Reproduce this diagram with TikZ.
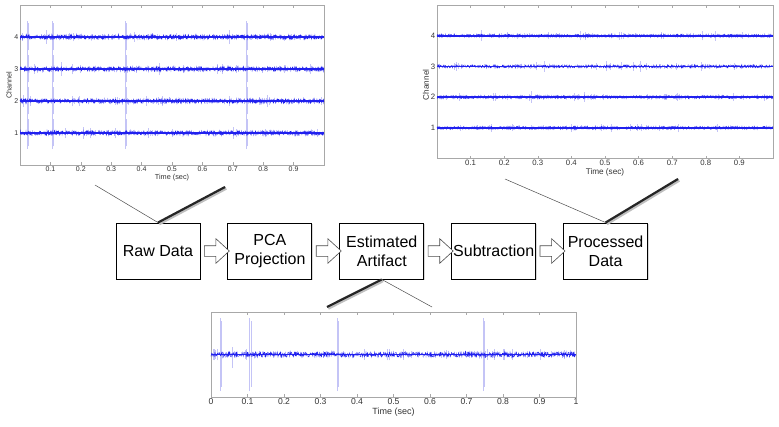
\documentclass[tikz,border=0pt]{standalone}
\usepackage{fontspec}
\setmainfont{Liberation Sans}
\usetikzlibrary{positioning,shapes.arrows,shadows}
\definecolor{sigblue}{HTML}{2020EE}
\definecolor{spikeblue}{HTML}{C4C4F6}
\definecolor{framegray}{HTML}{A8A8A8}
\definecolor{labelgray}{HTML}{333333}
\tikzset{
  stage/.style={draw=black,line width=0.9pt,fill=white,minimum width=84pt,minimum height=56pt,
                inner sep=1pt,align=center,font=\fontsize{16}{19}\selectfont,
                drop shadow={shadow xshift=1pt,shadow yshift=-1pt,opacity=0.3}},
  blockarrow/.style={single arrow,draw=black!70,fill=white,line width=0.6pt,inner sep=0pt,
                     inner ysep=5pt,minimum height=25pt,single arrow head extend=7pt,
                     single arrow tip angle=85},
  thinlink/.style={draw=black!70,line width=0.5pt},
  thicklink/.style={draw=black!85,line width=2.2pt,
                    preaction={draw=black!25,line width=3.6pt,transform canvas={xshift=1pt,yshift=-1pt}}},
  axisframe/.style={draw=framegray,line width=0.4pt},
  signal/.style={draw=sigblue,line width=0.35pt},
  baseline/.style={draw=sigblue,line width=1.6pt},
  spikeline/.style={draw=spikeblue,line width=0.4pt},
  ticklabel/.style={text=labelgray,inner sep=1.5pt},
}

\begin{document}
\begin{tikzpicture}[x=1pt,y=-1pt]
\useasboundingbox (0,0) rectangle (779,426);
\pgfmathsetseed{42}

% processing chain
\node[stage] (raw) at (158,251) {Raw Data};
\node[stage,right=27pt of raw] (pca) {PCA\\Projection};
\node[stage,right=27pt of pca] (est) {Estimated\\Artifact};
\node[stage,right=27pt of est] (sub) {Subtraction};
\node[stage,right=27pt of sub] (proc) {Processed\\Data};
\path (raw.east) -- node[blockarrow] (a1) {} (pca.west);
\path (pca.east) -- node[blockarrow] (a2) {} (est.west);
\path (est.east) -- node[blockarrow] (a3) {} (sub.west);
\path (sub.east) -- node[blockarrow] (a4) {} (proc.west);

% raw data plot
\begin{scope}[shift={(20,165)},x=304pt,y=32pt]
  \draw[axisframe] (0,0) rectangle (1,5);
  \foreach \t in {1,...,9} {
    \draw[axisframe] (\t/10,0) -- ++(0,3pt) (\t/10,5) -- ++(0,-3pt);
    \node[ticklabel,below,font=\fontsize{7}{8}\selectfont] (rawx\t) at (\t/10,0) {0.\t};
  }
  \foreach \c in {1,...,4} {
    \draw[axisframe] (0,\c) -- ++(3pt,0);
    \node[ticklabel,left,font=\fontsize{7}{8}\selectfont] (rawy\c) at (0,\c) {\c};
    \foreach \k in {1,...,30} {
      \pgfmathsetmacro\tx{0.005+0.99*rnd}
      \pgfmathsetmacro\ta{0.07+0.16*rnd*rnd}
      \draw[spikeline] (\tx,\c-\ta) -- (\tx,\c+\ta);
    }
    \foreach \s in {0.025,0.105,0.345,0.745} {
      \draw[spikeline] (\s,\c-0.5) -- (\s,\c+0.5);
      \draw[spikeline] (\s+0.003,\c-0.42) -- (\s+0.003,\c+0.45);
    }
    \draw[baseline] (0,\c) -- (1,\c);
    \draw[signal] plot[domain=0:1,samples=900] (\x,{\c+0.07*rand});
  }
  \node[ticklabel,below=8pt,font=\fontsize{7.3}{8}\selectfont] (rawtime) at (0.5,0) {Time (sec)};
  \node[ticklabel,rotate=90,font=\fontsize{7.3}{8}\selectfont] (rawchan) at (-0.036,2.5) {Channel};
\end{scope}

% processed data plot
\begin{scope}[shift={(437,158.5)},x=336pt,y=30.7pt]
  \draw[axisframe] (0,0) rectangle (1,5);
  \foreach \t in {1,...,9} {
    \draw[axisframe] (\t/10,0) -- ++(0,3pt) (\t/10,5) -- ++(0,-3pt);
    \node[ticklabel,below,font=\fontsize{7.8}{9}\selectfont] (procx\t) at (\t/10,0) {0.\t};
  }
  \foreach \c in {1,...,4} {
    \draw[axisframe] (0,\c) -- ++(3pt,0);
    \node[ticklabel,left,font=\fontsize{7.8}{9}\selectfont] (procy\c) at (0,\c) {\c};
    \foreach \k in {1,...,35} {
      \pgfmathsetmacro\tx{0.005+0.99*rnd}
      \pgfmathsetmacro\ta{0.06+0.14*rnd*rnd}
      \draw[spikeline] (\tx,\c-\ta) -- (\tx,\c+\ta);
    }
    \draw[baseline] (0,\c) -- (1,\c);
    \draw[signal] plot[domain=0:1,samples=900] (\x,{\c+0.05*rand});
  }
  \node[ticklabel,below=8pt,font=\fontsize{8.2}{9}\selectfont] (proctime) at (0.5,0) {Time (sec)};
  \node[ticklabel,rotate=90,font=\fontsize{8.2}{9}\selectfont] (procchan) at (-0.033,2.4) {Channel};
\end{scope}

% estimated artifact plot
\begin{scope}[shift={(211,397)},x=365pt,y=85pt]
  \draw[axisframe] (0,0) rectangle (1,1);
  \foreach \t/\lab in {0/0,1/0.1,2/0.2,3/0.3,4/0.4,5/0.5,6/0.6,7/0.7,8/0.8,9/0.9,10/1} {
    \draw[axisframe] (\t/10,0) -- ++(0,3pt) (\t/10,1) -- ++(0,-3pt);
    \node[ticklabel,below,font=\fontsize{8.6}{10}\selectfont] (estx\t) at (\t/10,0) {\lab};
  }
  \foreach \s in {0.025,0.105,0.345,0.745} {
    \draw[spikeline] (\s,0.07) -- (\s,0.93);
    \draw[spikeline] (\s+0.004,0.12) -- (\s+0.004,0.9);
  }
  \draw[spikeline] (0.057,0.34) -- (0.057,0.59);
  \foreach \k in {1,...,30} {
    \pgfmathsetmacro\tx{0.005+0.99*rnd}
    \pgfmathsetmacro\ta{0.03+0.04*rnd}
    \draw[spikeline] (\tx,0.5-\ta) -- (\tx,0.5+\ta);
  }
  \draw[baseline] (0,0.5) -- (1,0.5);
  \draw[signal] plot[domain=0:1,samples=1000] (\x,{0.5+0.03*rand});
  \node[ticklabel,below=9pt,font=\fontsize{9}{10}\selectfont] (esttime) at (0.5,0) {Time (sec)};
\end{scope}

% links from stages to plots
\coordinate (rawleft) at (95,185);
\coordinate (rawright) at (225,187);
\coordinate (procleft) at (505,179);
\coordinate (procright) at (678,179);
\coordinate (estleft) at (327,307);
\coordinate (estright) at (432,307);
\draw[thinlink] (raw.north) -- (rawleft);
\draw[thicklink] (raw.north) -- (rawright);
\draw[thinlink] (proc.north) -- (procleft);
\draw[thicklink] (proc.north) -- (procright);
\draw[thicklink] (est.south) -- (estleft);
\draw[thinlink] (est.south) -- (estright);
\end{tikzpicture}
\end{document}
